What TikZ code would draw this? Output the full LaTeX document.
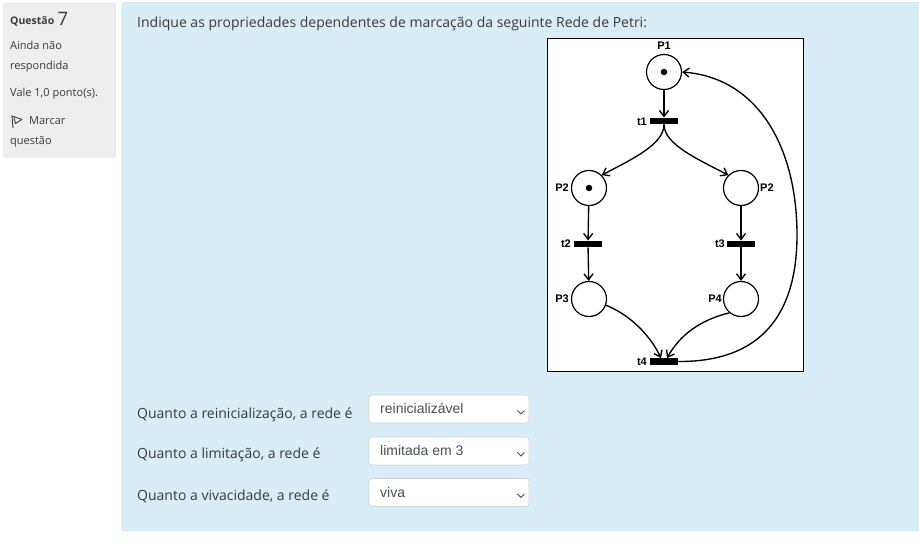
\documentclass[tikz,border=0pt]{standalone}
\usepackage{fontspec}
\setmainfont{Open Sans}
\newfontfamily\arialf{Liberation Sans}
\usetikzlibrary{arrows.meta,calc}
\definecolor{txt}{HTML}{373A3C}
\definecolor{infobg}{HTML}{D9EDF7}
\definecolor{infobd}{HTML}{BCE3F0}
\definecolor{graybg}{HTML}{EEEEEE}
\definecolor{graybd}{HTML}{D6D6D6}
\definecolor{selbd}{HTML}{CED4DA}
\definecolor{seltxt}{HTML}{495057}
\begin{document}
\begin{tikzpicture}[x=1pt,y=-1pt,
  place/.style={circle,draw,line width=1.2pt,minimum size=35pt,inner sep=0pt,fill=white},
  trans/.style={rectangle,fill=black,minimum width=28pt,minimum height=6.5pt,inner sep=0pt},
  plabel/.style={font=\arialf\bfseries\fontsize{11}{12}\selectfont,inner sep=0pt},
  arc/.style={line width=1.35pt,-{Straight Barb[length=6pt,width=9pt,line width=1.35pt]}},
  ui/.style={font=\fontsize{14}{16}\selectfont,text=txt,inner sep=0pt,anchor=base west},
  side/.style={font=\fontsize{11}{13}\selectfont,text=txt,inner sep=0pt,anchor=base west},
  selbox/.style={draw=selbd,fill=white,rounded corners=3pt,line width=0.8pt,minimum width=160pt,minimum height=28pt,inner sep=0pt},
  seltext/.style={font=\arialf\fontsize{14}{16}\selectfont,text=seltxt,inner sep=0pt,anchor=base west},
  token/.style={circle,fill=black,minimum size=6.5pt,inner sep=0pt}]
\useasboundingbox (0,0) rectangle (919,559);
\fill[white] (0,0) rectangle (919,559);
% left info panel
\draw[fill=graybg,draw=graybd,rounded corners=2pt] (3.5,3.5) rectangle (115.5,157.5);
\node[side,font=\bfseries\fontsize{10.5}{12}\selectfont] (q) at (10,25) {Questão};
\node[side,font=\fontsize{18.5}{20}\selectfont] (qn) at (57.5,25.5) {7};
\node[side] (s1) at (10,49.5) {Ainda não};
\node[side] (s2) at (10,69.5) {respondida};
\node[side] (s3) at (10,97) {Vale 1,0 ponto(s).};
\node[side] (s4) at (29,125) {Marcar};
\node[side] (s5) at (10,145) {questão};
\draw[txt,line width=0.9pt,line join=round] (13,128) -- (12,116) -- (22,119.5) -- (15.5,123.5) -- (14,118);
% main panel
\draw[fill=infobg,draw=infobd,rounded corners=3pt] (121.5,2.5) rectangle (930,531);
\node[ui] (title) at (137,27.5) {Indique as propriedades dependentes de marcação da seguinte Rede de Petri:};
% petri net figure
\draw[fill=white,draw=black,line width=0.9pt] (547.5,38.5) rectangle (803.5,371.5);
\node[place] (P1) at (664,72) {};
\node[token] at (P1) {};
\node[trans] (t1) at (664,121) {};
\node[place] (P2a) at (589,188) {};
\node[token] at (P2a) {};
\node[place] (P2b) at (741,188) {};
\node[trans] (t2) at (588,244) {};
\node[trans] (t3) at (741,244) {};
\node[place] (P3) at (589,299) {};
\node[place] (P4) at (741,299) {};
\node[trans] (t4) at (664,361.5) {};
\node[plabel] (lP1) at (664,46) {P1};
\node[plabel,anchor=east] (lt1) at (647,122) {t1};
\node[plabel,anchor=east] (lP2a) at (569,188) {P2};
\node[plabel,anchor=west] (lP2b) at (760,188) {P2};
\node[plabel,anchor=east] (lt2) at (571,244) {t2};
\node[plabel,anchor=east] (lt3) at (725,244) {t3};
\node[plabel,anchor=east] (lP3) at (569,299) {P3};
\node[plabel,anchor=east] (lP4) at (722,299) {P4};
\node[plabel,anchor=east] (lt4) at (647,362) {t4};
\draw[arc] (P1) -- (t1);
\draw[arc] (t1.south) .. controls (664,145) and (630,160) .. (P2a.north east);
\draw[arc] (t1.south) .. controls (664,145) and (700,160) .. (P2b.north west);
\draw[arc] (P2a) -- (t2);
\draw[arc] (t2) -- (P3);
\draw[arc] (P2b) -- (t3);
\draw[arc] (t3) -- (P4);
\coordinate (t4l) at ($(t4.north)+(-3,0)$);
\coordinate (t4r) at ($(t4.north)+(3,0)$);
\draw[arc] (P3.-20) .. controls (630,315) and (650,335) .. (t4l);
\draw[arc] (P4.-130) .. controls (700,320) and (680,335) .. (t4r);
\draw[arc] (t4.east) .. controls (765,362) and (797,310) .. (797,235) .. controls (797,150) and (760,78) .. (P1.east);
% questions
\node[ui] (l1) at (137,418) {Quanto a reinicialização, a rede é};
\node[ui] (l2) at (137,458.5) {Quanto a limitação, a rede é};
\node[ui] (l3) at (137,500) {Quanto a vivacidade, a rede é};
\node[selbox] (b1) at (449,409) {};
\node[selbox] (b2) at (449,451) {};
\node[selbox] (b3) at (449,492.5) {};
\node[seltext] (v1) at (380,413) {reinicializável};
\node[seltext] (v2) at (380,455) {limitada em 3};
\node[seltext] (v3) at (380,497) {viva};
\foreach \b in {b1,b2,b3}{
  \draw[seltxt,line width=0.9pt] ($(\b.east)+(-12,1.5)$) -- ($(\b.east)+(-8.5,5)$) -- ($(\b.east)+(-5,1.5)$);
}
\end{tikzpicture}
\end{document}
